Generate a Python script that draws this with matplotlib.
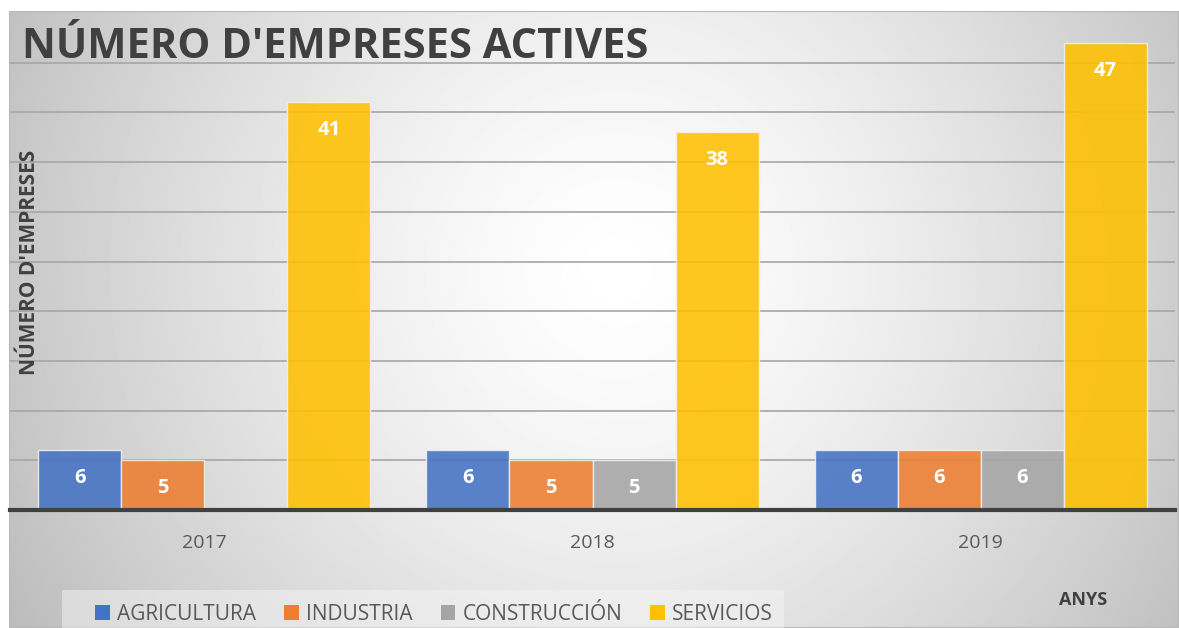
import numpy as np
import matplotlib.pyplot as plt
from matplotlib.patches import Patch, Rectangle

# data
years = ['2017', '2018', '2019']
sectors = ['AGRICULTURA', 'INDUSTRIA', 'CONSTRUCCIÓN', 'SERVICIOS']
agricultura = [6, 6, 6]
industria = [5, 5, 6]
construccio = [0, 5, 6]
serveis = [41, 38, 47]
colors = ['#4472C4', '#ED7D31', '#A5A5A5', '#FFC000']

plt.rcParams['font.family'] = ['Open Sans', 'DejaVu Sans']

W, H = 1179, 628
fig = plt.figure(figsize=(W / 100, H / 100), dpi=100)

# radial gradient background
bg = fig.add_axes([9 / W, 0, 1 - 9 / W, 1 - 11 / H])
bg.set_axis_off()
yy, xx = np.mgrid[0:300, 0:600]
cx, cy = 0.52, 0.42
r = np.sqrt(((xx / 599 - cx) * 1.9) ** 2 + ((yy / 299 - cy) * 1.0) ** 2)
shade = np.clip(1 - 0.22 * r ** 1.4, 0, 1)
bg.imshow(shade, cmap='gray', vmin=0, vmax=1, aspect='auto', extent=[0, 1, 0, 1], origin='upper')
bg.set_xlim(0, 1)
bg.set_ylim(0, 1)
bg.add_patch(Rectangle((0, 0), 1, 1, fill=False, edgecolor='#b8b8b8', lw=1.5, transform=bg.transAxes))

ax = fig.add_axes([10 / W, 1 - 510 / H, 1165 / W, 497 / H])
ax.patch.set_alpha(0)
ax.set_xlim(-0.5, 2.5)
ax.set_ylim(0, 50)

x = np.arange(len(years))
w = 0.214
series = [agricultura, industria, construccio, serveis]
for i, vals in enumerate(series):
    pos = x + (i - 1.5) * w
    for p, v in zip(pos, vals):
        if v == 0:
            continue
        ax.bar(p, v, width=w, color=colors[i], alpha=0.88, edgecolor='#f0f0f0', linewidth=1, zorder=3)
        ax.annotate(str(v), (p, v), xytext=(0, -28), textcoords='offset pixels',
                    ha='center', va='center', color='white', fontsize=14.5, fontweight='bold', zorder=4)

ax.set_yticks(np.arange(5, 50, 5))
ax.yaxis.grid(True, color='#a6a6a6', lw=1.2, zorder=0)
ax.tick_params(axis='y', length=0, labelleft=False)
ax.set_xticks(x)
ax.set_xticklabels(years, fontsize=14, color='#595959')
ax.tick_params(axis='x', length=0, pad=17)
for s in ax.spines.values():
    s.set_visible(False)
ax.axhline(0, color='#404040', lw=3, zorder=5, clip_on=False)

fig.text(22 / W, 1 - 47 / H, "NÚMERO D'EMPRESES ACTIVES", fontsize=30, fontweight='bold',
         color='#404040', va='center', ha='left')
fig.text(30 / W, 1 - 262 / H, "NÚMERO D'EMPRESES", fontsize=15, fontweight='bold',
         color='#404040', rotation=90, va='center', ha='center')
fig.text(1083 / W, 1 - 600 / H, 'ANYS', fontsize=13, fontweight='bold',
         color='#404040', va='center', ha='center')

# legend box
fig.patches.append(Rectangle((62 / W, 0), 722 / W, 38 / H, transform=fig.transFigure,
                             facecolor='#f4f4f4', edgecolor='none', alpha=0.5, zorder=1))
handles = [Patch(facecolor=c, edgecolor='none') for c in colors]
leg = fig.legend(handles, sectors, loc='center left', bbox_to_anchor=(95 / W, 1 - 614 / H),
                 ncol=4, frameon=False, fontsize=15, handlelength=0.7, handleheight=0.7,
                 handletextpad=0.35, columnspacing=1.35, borderpad=0, borderaxespad=0)
for t in leg.get_texts():
    t.set_color('#595959')

fig.savefig('out.png', dpi=100)
